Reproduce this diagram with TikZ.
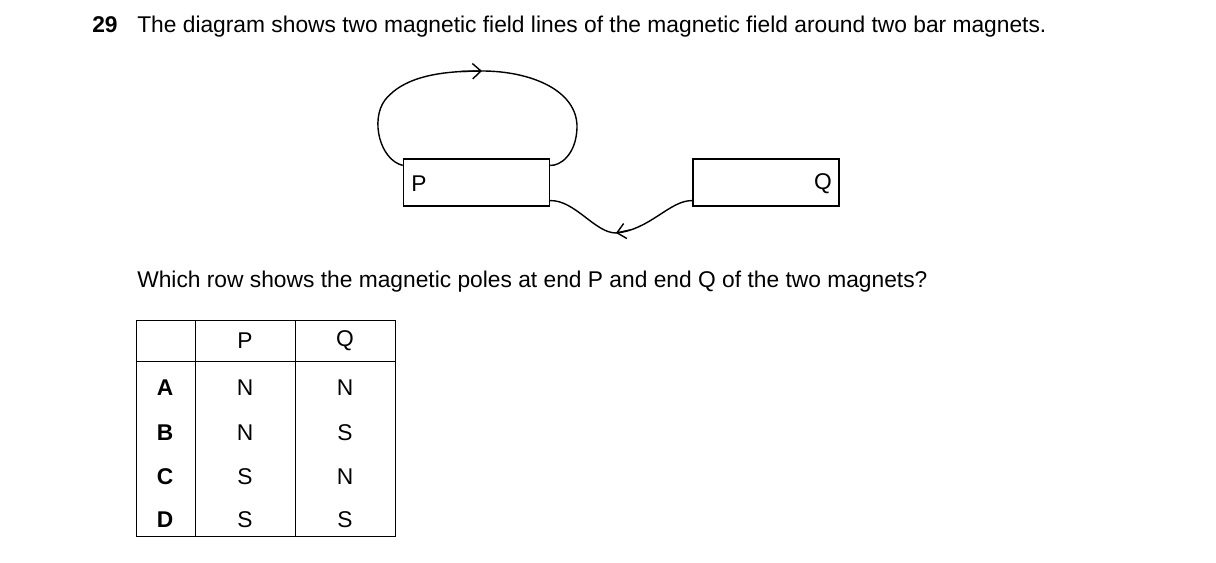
\documentclass[tikz,border=0pt]{standalone}
\usepackage{fontspec}
\setmainfont{Liberation Sans}
\usetikzlibrary{arrows.meta, positioning, calc}

\begin{document}
\begin{tikzpicture}[x=0.025cm, y=-0.025cm,
    txt/.style={inner sep=0pt, anchor=base west, font=\fontsize{16.2}{19}\selectfont},
    magnet/.style={rectangle, draw, line width=1pt, minimum width=3.65cm, minimum height=1.17cm, inner sep=0pt},
    pole/.style={inner sep=0pt, font=\fontsize{16.2}{19}\selectfont},
    field/.style={line width=1pt},
    tip/.style={-{Straight Barb[length=6pt, width=11pt]}},
    cell/.style={inner sep=0pt, font=\fontsize{16.2}{19}\selectfont}
]
    \useasboundingbox (0,0) rectangle (1216,563);

    % question
    \node[txt] (num) at (92,33) {\textbf{29}};
    \node[txt] (stem) at (137,33) {The diagram shows two magnetic field lines of the magnetic field around two bar magnets.};

    % magnets
    \node[magnet] (magP) at (476.5,182.5) {};
    \node[magnet] (magQ) at (766,182.5) {};
    \node[pole] (P) at (419,184) {P};
    \node[pole] (Q) at (823,184) {Q};

    % field lines
    \coordinate (top) at (482,71);
    \coordinate (low) at (616,233);
    \draw[field] ($(magP.north west)+(0,7)$)
        .. controls (380,160) and (370,120) .. (385,100)
        .. controls (405,75) and (445,71) .. (top)
        .. controls (530,71) and (578,90) .. (577,128)
        .. controls (576,155) and (560,166) .. ($(magP.north east)+(0,7)$);
    \draw[field, tip] (460,71.5) -- (top);
    \draw[field] ($(magP.south east)+(0,-6)$) .. controls (575,200) and (595,233) .. (low)
        .. controls (650,230) and (670,200) .. ($(magQ.south west)+(0,-6)$);
    \draw[field, tip] (630,230) -- (low);

    % answer prompt
    \node[txt] (ask) at (137,288) {Which row shows the magnetic poles at end P and end Q of the two magnets?};

    % table
    \draw[line width=0.7pt] (136,320) rectangle (395,536);
    \draw[line width=0.7pt] (136,361) -- (395,361);
    \draw[line width=0.7pt] (195,320) -- (195,536);
    \draw[line width=0.7pt] (295,320) -- (295,536);
    \node[cell] (hP) at (245,341) {P};
    \node[cell] (hQ) at (345,341) {Q};
    \foreach \row/\p/\q/\y in {A/N/N/388, B/N/S/433, C/S/N/477, D/S/S/520} {
        \node[cell] (lab\row) at (165,\y) {\textbf{\row}};
        \node[cell] (p\row) at (245,\y) {\p};
        \node[cell] (q\row) at (345,\y) {\q};
    }
\end{tikzpicture}
\end{document}
